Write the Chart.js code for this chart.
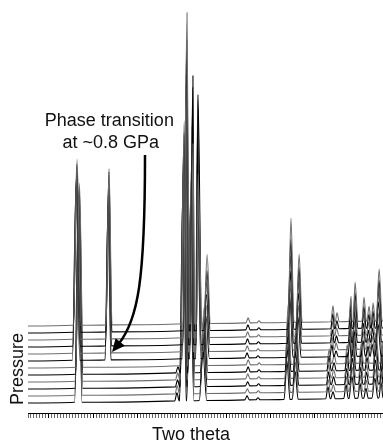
<!DOCTYPE html>
<html>
<head>
<meta charset="utf-8">
<script src="https://cdn.jsdelivr.net/npm/chart.js@4.4.1/dist/chart.umd.min.js"></script>
<style>
  html, body { margin: 0; padding: 0; background: #fff; }
  #wrap { width: 383px; height: 441px; position: relative; }
</style>
</head>
<body>
<div id="wrap"><canvas id="xrd"></canvas></div>
<script>
// two theta range of the axis (deg)
var thetaMin = 4.6;
var thetaMax = 28.6;

// 12 patterns, bottom = lowest pressure, top = highest pressure
var traceBaselines = [10, 17, 24, 31, 38, 45, 52, 59, 66, 73, 80, 87];
var traceShift = [0, 0.02, 0.04, 0.05, 0.07, 0.08, 0, 0.01, 0.03, 0.04, 0.06, 0.07];
var backgroundRise = 5; // background at the high angle end
var transitionTrace = 6; // first trace of the high pressure phase

// low pressure phase (traces 0-5)
var lowPeakPos = [8.00, 14.67, 15.08, 15.56, 16.43, 19.41, 20.15, 22.11, 22.66, 24.88, 25.22, 26.10, 26.50, 27.05, 27.45, 28.05, 28.47];
var lowPeakBg = [0.7, 2.1, 2.2, 2.3, 2.5, 3.1, 3.2, 3.6, 3.8, 4.2, 4.3, 4.5, 4.6, 4.7, 4.8, 4.9, 5.0];
var lowPeakHalfWidth = [0.25, 0.15, 0.25, 0.25, 0.25, 0.15, 0.15, 0.2, 0.2, 0.15, 0.15, 0.15, 0.2, 0.15, 0.15, 0.2, 0.15];
var lowPeakHeights = [
  [195, 192, 190, 188, 186, 184],
  [8, 8, 7, 7, 6, 0],
  [215, 222, 228, 235, 240, 245],
  [170, 176, 182, 188, 192, 198],
  [48, 50, 52, 54, 56, 58],
  [4, 4, 4, 5, 5, 5],
  [2, 2, 2, 2, 2, 2],
  [38, 42, 46, 50, 55, 60],
  [28, 30, 33, 36, 40, 44],
  [12, 12, 13, 13, 14, 14],
  [7, 7, 8, 8, 8, 9],
  [14, 15, 16, 17, 18, 19],
  [22, 24, 26, 28, 30, 32],
  [15, 16, 17, 18, 19, 20],
  [10, 11, 12, 12, 13, 14],
  [20, 22, 24, 26, 28, 30],
  [16, 17, 18, 19, 20, 22]
];

// high pressure phase (traces 6-11)
var highPeakPos = [7.85, 10.01, 15.28, 15.69, 16.03, 16.64, 19.41, 20.15, 22.31, 22.86, 25.15, 25.42, 26.37, 26.64, 27.25, 27.59, 27.86, 28.27];
var highPeakBg = [0.7, 1.1, 2.2, 2.3, 2.4, 2.5, 3.1, 3.2, 3.7, 3.8, 4.2, 4.3, 4.6, 4.6, 4.7, 4.8, 4.9, 5.0];
var highPeakHalfWidth = [0.25, 0.2, 0.25, 0.25, 0.25, 0.22, 0.15, 0.15, 0.2, 0.2, 0.15, 0.15, 0.15, 0.2, 0.15, 0.15, 0.15, 0.2];
var highPeakHeights = [
  [175, 172, 170, 175, 168, 166],
  [150, 152, 155, 158, 160, 156],
  [230, 250, 270, 262, 290, 311],
  [200, 225, 238, 250, 255, 180],
  [195, 210, 228, 243, 236, 150],
  [42, 46, 50, 55, 60, 69],
  [5, 5, 5, 5, 5, 5],
  [2, 2, 2, 2, 2, 2],
  [60, 66, 72, 80, 90, 104],
  [40, 45, 50, 55, 62, 68],
  [12, 13, 13, 14, 15, 16],
  [6, 7, 7, 8, 8, 9],
  [18, 20, 21, 22, 24, 25],
  [26, 28, 31, 33, 36, 39],
  [16, 18, 19, 21, 22, 24],
  [10, 11, 12, 13, 14, 15],
  [12, 13, 14, 15, 17, 18],
  [32, 36, 40, 44, 48, 52]
];

var lineColors = ["#000000", "#6e6e6e"];

function buildTrace(i) {
  var high = i >= transitionTrace;
  var pos = high ? highPeakPos : lowPeakPos;
  var bg = high ? highPeakBg : lowPeakBg;
  var hw = high ? highPeakHalfWidth : lowPeakHalfWidth;
  var heights = high ? highPeakHeights : lowPeakHeights;
  var col = high ? i - transitionTrace : i;
  var base = traceBaselines[i];
  var pts = [{ x: thetaMin, y: base }, { x: thetaMax, y: base + backgroundRise }];
  for (var k = 0; k < pos.length; k++) {
    var h = heights[k][col];
    if (!h) continue;
    var c = pos[k] + traceShift[i];
    var b = base + bg[k];
    pts.push({ x: c - hw[k], y: b }, { x: c, y: b + h }, { x: c + hw[k] + 0.001, y: b });
  }
  pts.sort(function (a, b) { return a.x - b.x; });
  return pts;
}

var datasets = [];
for (var i = traceBaselines.length - 1; i >= 0; i--) {
  datasets.push({
    data: buildTrace(i),
    borderColor: lineColors[i % 2],
    borderWidth: 1.1,
    pointRadius: 0,
    cubicInterpolationMode: "monotone",
    fill: false
  });
}

var labelsPlugin = {
  id: "labels",
  afterDraw: function (chart) {
    var ctx = chart.ctx;
    var xs = chart.scales.x;
    var ys = chart.scales.y;
    var area = chart.chartArea;
    ctx.save();
    ctx.fillStyle = "#111";
    ctx.font = "18px 'Liberation Sans', Arial, sans-serif";
    ctx.textAlign = "center";
    ctx.textBaseline = "alphabetic";
    ctx.fillText("Phase transition", xs.getPixelForValue(10.1), ys.getPixelForValue(287));
    ctx.fillText("at ~0.8 GPa", xs.getPixelForValue(10.2), ys.getPixelForValue(265));
    ctx.fillText("Two theta", 191, area.bottom + 27);
    ctx.save();
    ctx.translate(23, 369);
    ctx.rotate(-Math.PI / 2);
    ctx.fillText("Pressure", 0, 0);
    ctx.restore();

    // curved arrow to the new peak
    var p0 = [xs.getPixelForValue(12.51), ys.getPixelForValue(258)];
    var c1 = [xs.getPixelForValue(12.51), ys.getPixelForValue(133)];
    var c2 = [xs.getPixelForValue(12.04), ys.getPixelForValue(93)];
    var p3 = [xs.getPixelForValue(10.28), ys.getPixelForValue(61)];
    var ang = Math.atan2(p3[1] - c2[1], p3[0] - c2[0]);
    var len = 13, wid = 6;
    var bx = p3[0] - len * 0.8 * Math.cos(ang);
    var by = p3[1] - len * 0.8 * Math.sin(ang);
    ctx.strokeStyle = "#000";
    ctx.lineWidth = 2.5;
    ctx.beginPath();
    ctx.moveTo(p0[0], p0[1]);
    ctx.bezierCurveTo(c1[0], c1[1], c2[0], c2[1], bx, by);
    ctx.stroke();
    ctx.fillStyle = "#000";
    ctx.beginPath();
    ctx.moveTo(p3[0], p3[1]);
    ctx.lineTo(p3[0] - len * Math.cos(ang) + wid * Math.sin(ang), p3[1] - len * Math.sin(ang) - wid * Math.cos(ang));
    ctx.lineTo(p3[0] - len * Math.cos(ang) - wid * Math.sin(ang), p3[1] - len * Math.sin(ang) + wid * Math.cos(ang));
    ctx.closePath();
    ctx.fill();
    ctx.restore();
  }
};

var chart = new Chart(document.getElementById("xrd").getContext("2d"), {
  type: "line",
  data: { datasets: datasets },
  options: {
    responsive: true,
    maintainAspectRatio: false,
    animation: false,
    events: [],
    layout: { padding: { left: 28, right: 0, top: 0, bottom: 23 } },
    plugins: { legend: { display: false }, tooltip: { enabled: false } },
    scales: {
      x: {
        type: "linear",
        min: thetaMin,
        max: thetaMax,
        border: { display: true, color: "#000", width: 1 },
        grid: {
          display: true,
          drawOnChartArea: false,
          drawTicks: true,
          tickLength: 5,
          tickWidth: 1,
          tickColor: function (c) {
            var v = c.tick ? c.tick.value : 0;
            return Math.abs(v - 3 * Math.round(v / 3)) < 0.05 ? "#000" : "#666";
          }
        },
        ticks: { display: false, stepSize: 0.2, maxTicksLimit: 200, autoSkip: false }
      },
      y: { display: false, min: 0, max: 413 }
    }
  },
  plugins: [labelsPlugin]
});
</script>
</body>
</html>
